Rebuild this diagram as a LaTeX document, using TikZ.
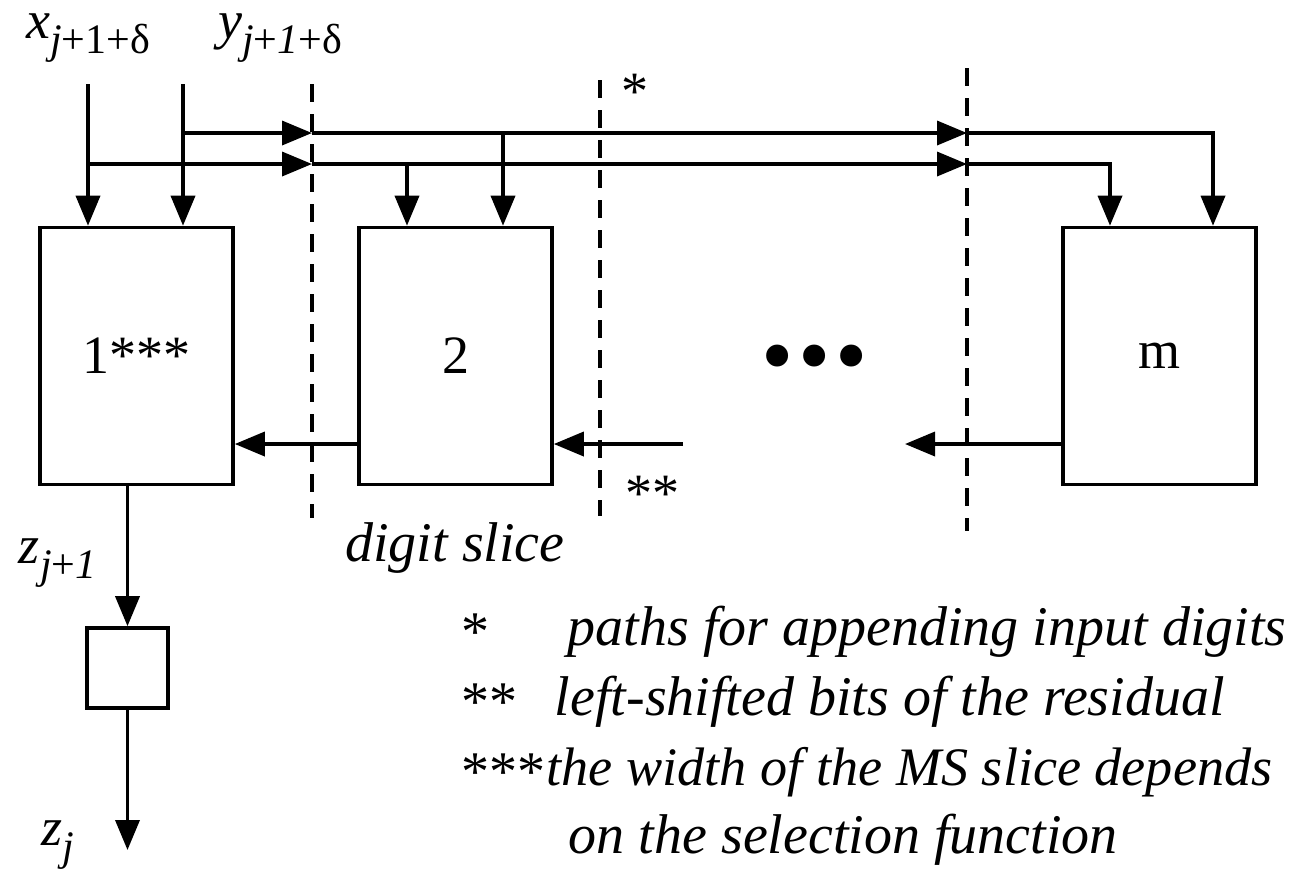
\documentclass[tikz,border=0pt]{standalone}
\usepackage{fontspec}
\setmainfont{LiberationSerif}[Extension=.ttf, UprightFont=*-Regular, ItalicFont=*-Italic, BoldFont=*-Bold]
\usetikzlibrary{arrows.meta}
\newcommand{\lowsub}[1]{\raisebox{-0.6ex}{\fontsize{10.5}{12}\selectfont #1}}

\begin{document}
\begin{tikzpicture}[x=0.25pt, y=-0.25pt, >={Triangle[length=7.5pt,width=6pt]}, line width=0.9pt,
    font=\fontsize{13.5}{16}\selectfont,
    slice/.style={draw, minimum width=48.25pt, minimum height=64.25pt, inner sep=0pt},
    cut/.style={dash pattern=on 4.5pt off 3pt, line width=0.8pt},
    note/.style={anchor=west, inner sep=0pt, font=\fontsize{14}{16}\selectfont}]
    \useasboundingbox (0,0) rectangle (1308,872);
    \def\ytop{133}
    \def\ybot{164}
    \def\yres{444}

    % digit slices
    \node[slice] (b1) at (136.5,356) {1***};
    \node[slice] (b2) at (455.5,356) {2};
    \node[slice] (bm) at (1159.5,356) {m};
    \node (dots) at (815,366) {\fontsize{23}{23}\selectfont •\hspace{1.2pt}•\hspace{1.2pt}•};
    \node[draw, minimum width=20.25pt, minimum height=20pt, inner sep=0pt] (reg) at (127.5,668) {};

    % inputs
    \coordinate (xin) at (88,84);
    \coordinate (yin) at (183,84);
    \node (xlab) at (88,38) {\textit{x}\lowsub{\textit{j}+1+δ}};
    \node (ylab) at (280,38) {\textit{y}\lowsub{\textit{j}+\textit{1}+δ}};
    \draw[->] (xin) -- (xin |- b1.north);
    \draw[->] (yin) -- (yin |- b1.north);

    % appending paths (*)
    \coordinate (ya) at (183,\ytop);
    \coordinate (xa) at (88,\ybot);
    \draw[->] (ya) -- (312,\ytop);
    \draw[->] (312,\ytop) -- (967,\ytop);
    \draw[->] (967,\ytop) -| (1213,\ytop |- bm.north);
    \draw[->] (xa) -- (312,\ybot);
    \draw[->] (312,\ybot) -- (967,\ybot);
    \draw[->] (967,\ybot) -| (1110,\ybot |- bm.north);
    \draw[->] (407,\ybot) -- (407,\ybot |- b2.north);
    \draw[->] (503,\ytop) -- (503,\ytop |- b2.north);

    % residual bits (**)
    \draw[->] (b2.west |- 0,\yres) -- (b1.east |- 0,\yres);
    \draw[->] (683,\yres) -- (b2.east |- 0,\yres);
    \draw[->] (bm.west |- 0,\yres) -- (905,\yres);

    % slice borders
    \draw[cut] (312,84) -- (312,518);
    \draw[cut] (600,80) -- (600,516);
    \draw[cut] (967,68) -- (967,531);
    \node (star1) at (635,92) {*};
    \node (star2) at (652,494) {**};
    \node[font=\fontsize{14}{16}\selectfont] (slicelab) at (455,548) {\textit{digit slice}};

    % output digit
    \draw[->] (reg.north |- b1.south) -- (reg.north) node[pos=0.55, left=4pt] {\textit{z}\lowsub{\textit{j}+\textit{1}}};
    \coordinate (zout) at (127.5,850);
    \draw[->] (reg.south) -- (zout);
    \node (zlab) at (58,845) {\textit{z}\lowsub{\textit{j}}};

    % notes
    \node[note] (n1a) at (460,632) {*};
    \node[note] (n1b) at (566,632) {\textit{paths for appending input digits}};
    \node[note] (n2a) at (460,702) {**};
    \node[note] (n2b) at (553,702) {\textit{left-shifted bits of the residual}};
    \node[note] (n3a) at (460,772) {***};
    \node[note, font=\fontsize{13.55}{16}\selectfont] (n3b) at (545,772) {\textit{the width of the MS slice depends}};
    \node[note] (n4b) at (567,840) {\textit{on the selection function}};
\end{tikzpicture}
\end{document}
